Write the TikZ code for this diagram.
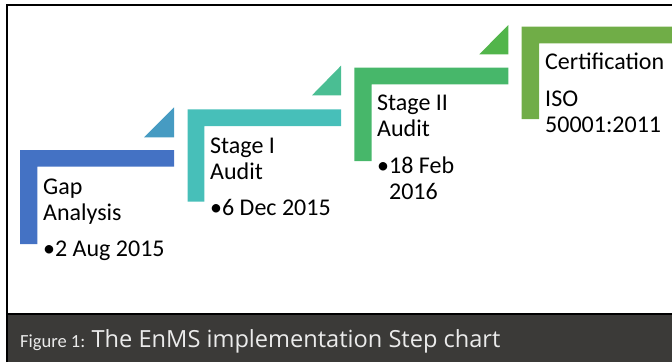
\documentclass[tikz,border=0pt]{standalone}
\usepackage{fontspec}
\usepackage{tikz}
\usepackage{xcolor}
\usetikzlibrary{positioning}
\setmainfont{Carlito}
\newfontfamily\capfont{Open Sans}
\definecolor{stepblue}{HTML}{4472C4}
\definecolor{triblue}{HTML}{469BC2}
\definecolor{stepteal}{HTML}{47BFB9}
\definecolor{triteal}{HTML}{4ABE93}
\definecolor{stepgreen}{HTML}{47B76A}
\definecolor{trigreen}{HTML}{52B54B}
\definecolor{stepolive}{HTML}{70AD47}
\definecolor{capbar}{HTML}{3B3A38}

\begin{document}
\begin{tikzpicture}[x=1pt,y=-1pt,
    steptext/.style={anchor=base west,inner sep=0pt,align=left,font=\fontsize{24}{26}\selectfont},
    frame/.style={line width=2pt,black}]
            \useasboundingbox (0,0) rectangle (672,362);
            % frame and caption bar
            \fill[capbar] (6.5,314.5) rectangle (672,362);
            \draw[frame] (6.5,362) -- (6.5,5) -- (672,5);
            \draw[frame] (6.5,313.5) -- (672,313.5);
            % steps
            \fill[stepblue] (20,150) -- (174,150) -- (174,166.7) -- (37.3,166.7) -- (37.3,244) -- (20,244) -- cycle;
            \fill[triblue] (144,137.3) -- (174,137.3) -- (174,107.3) -- cycle;
            \fill[stepteal] (187.5,109.3) -- (341,109.3) -- (341,126) -- (204.3,126) -- (204.3,201.7) -- (187.5,201.7) -- cycle;
            \fill[triteal] (312,95.3) -- (341,95.3) -- (341,65.7) -- cycle;
            \fill[stepgreen] (354.3,67.7) -- (508.3,67.7) -- (508.3,84.3) -- (371.7,84.3) -- (371.7,161) -- (354.3,161) -- cycle;
            \fill[trigreen] (479.3,54.3) -- (508.3,54.3) -- (508.3,25) -- cycle;
            \fill[stepolive] (521.7,26.7) -- (672,26.7) -- (672,43.3) -- (539,43.3) -- (539,119) -- (521.7,119) -- cycle;
            % labels (anchored at the baseline of their last line)
            \node[steptext] (gap) at (43,256.7) {Gap\\Analysis\\[10.7pt]•2 Aug 2015};
            \node[steptext] (stageone) at (210,215.7) {Stage I\\Audit\\[10.7pt]•6 Dec 2015};
            \node[steptext] (stagetwo) at (377,199) {Stage II\\Audit\\[10.7pt]•18 Feb\\\phantom{•}2016};
            \node[steptext] (cert) at (545,132.3) {Certification\\[10.7pt]ISO\\50001:2011};
            % caption
            \node[anchor=base west,inner sep=0pt,text=white!92!black,font=\fontsize{18.5}{20}\selectfont] (fig) at (20,347.7) {Figure 1:};
            \node[base right=6pt of fig,inner sep=0pt,text=white!92!black,font=\capfont\fontsize{23.6}{26}\selectfont] (capt) {The EnMS implementation Step chart};
        \end{tikzpicture}
\end{document}
